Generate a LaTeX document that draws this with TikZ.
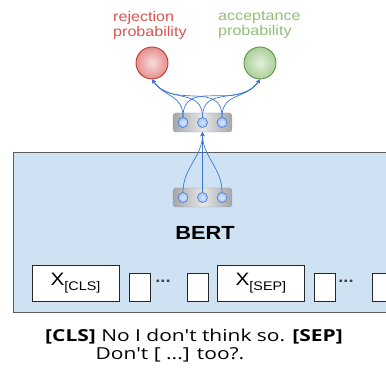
\documentclass[tikz,border=0pt]{standalone}
\usepackage{fontspec}
\setmainfont{Liberation Sans}[FakeStretch=1.15]
\newfontfamily\notefont{Open Sans}[FakeStretch=1.27]
\usetikzlibrary{positioning}
\usetikzlibrary{arrows.meta}

\definecolor{bertfill}{HTML}{CFE2F3}
\definecolor{bertedge}{HTML}{5F5F5F}
\definecolor{linkblue}{HTML}{3C78D8}
\definecolor{unitfill}{HTML}{A4C2F4}
\definecolor{rejred}{HTML}{D9534F}
\definecolor{rejedge}{HTML}{B83B3B}
\definecolor{accgreen}{HTML}{8FBF77}
\definecolor{accedge}{HTML}{5E9448}

\begin{document}
\begin{tikzpicture}[x=1pt, y=1pt,
  prob/.style = {circle, minimum size=32pt, inner sep=0pt, line width=0.9pt},
  vec/.style = {draw=linkblue!70, rounded corners=3pt, minimum width=59pt, minimum height=19pt, inner sep=0pt, left color=gray!70, right color=gray!70, middle color=gray!20},
  unit/.style = {circle, draw=linkblue, inner color=unitfill!40, outer color=unitfill, minimum size=10pt, inner sep=0pt, line width=0.6pt},
  tok/.style = {draw=black!85, fill=white, inner sep=0pt, line width=0.8pt},
  gap/.style = {tok, minimum width=21pt, minimum height=28pt},
  more/.style = {anchor=base, inner sep=0pt, text=black!75, font=\fontsize{16}{16}\selectfont\bfseries},
  link/.style = {draw=linkblue, line width=0.7pt, -{Stealth[length=4pt, width=4pt]}},
  lbl/.style = {align=left, anchor=north west, font=\fontsize{14}{15.5}\selectfont, inner sep=0pt},
  note/.style = {anchor=base, inner sep=0pt, font=\notefont\fontsize{16.5}{18}\selectfont}]

% page size as in the reference
\useasboundingbox (0,0) rectangle (386,371);

% encoder
\node[draw=bertedge, fill=bertfill, line width=1pt, minimum width=407pt, minimum height=160pt, inner sep=0pt] (bert) at (216.5,138) {};
\node[font=\fontsize{19}{21}\selectfont\bfseries] (bertname) at (205,138) {BERT};

% input tokens
\node[tok, minimum width=87pt, minimum height=36pt] (cls) at (75.5,88) {\fontsize{18}{20}\selectfont X\raisebox{-4.5pt}{\fontsize{12.5}{13}\selectfont[CLS]}};
\node[gap, right=10pt of cls.south east, anchor=south west] (g1) {};
\node[gap, right=36pt of g1.south east, anchor=south west] (g2) {};
\node[tok, minimum width=87pt, minimum height=36pt, right=8pt of g2.south east, anchor=south west] (sep) {\fontsize{18}{20}\selectfont X\raisebox{-4.5pt}{\fontsize{12.5}{13}\selectfont[SEP]}};
\node[gap, right=9pt of sep.south east, anchor=south west] (g3) {};
\node[gap, right=36pt of g3.south east, anchor=south west] (g4) {};
\node[more] (d1) at (163,88) {...};
\node[more] (d2) at (346,88) {...};

% pooled vector and head
\node[vec] (pool) at (202.5,173.5) {};
\node[vec] (head) at (202.5,248.5) {};
\foreach \i/\dx in {1/-19.5, 2/0, 3/19.5} {
  \node[unit, xshift=\dx pt] (p\i) at (pool) {};
  \node[unit, xshift=\dx pt] (h\i) at (head) {};
}

% outputs
\node[prob, draw=rejedge, inner color=rejred!20, outer color=rejred!65] (rej) at (152,308) {};
\node[prob, draw=accedge, inner color=accgreen!25, outer color=accgreen!75] (acc) at (260,308) {};
\node[lbl, text=rejred] (rejtext) at (113,360) {rejection\\probability};
\node[lbl, text=accgreen] (acctext) at (218,360) {acceptance\\probability};

\foreach \i in {1,2,3} {
  \draw[link] (p\i.north) to[out=90, in=-90] (head.south);
  \draw[link] (h\i.north) to[out=90, in=-55, looseness=1.2] (rej.south);
  \draw[link] (h\i.north) to[out=90, in=-125, looseness=1.2] (acc.south);
}

% input text
\node[note] (line1) at (194,29) {\textbf{[CLS]} No I don't think so. \textbf{[SEP]}};
\node[note] (line2) at (170,11) {Don't [ ...] too?.};
\end{tikzpicture}
\end{document}
